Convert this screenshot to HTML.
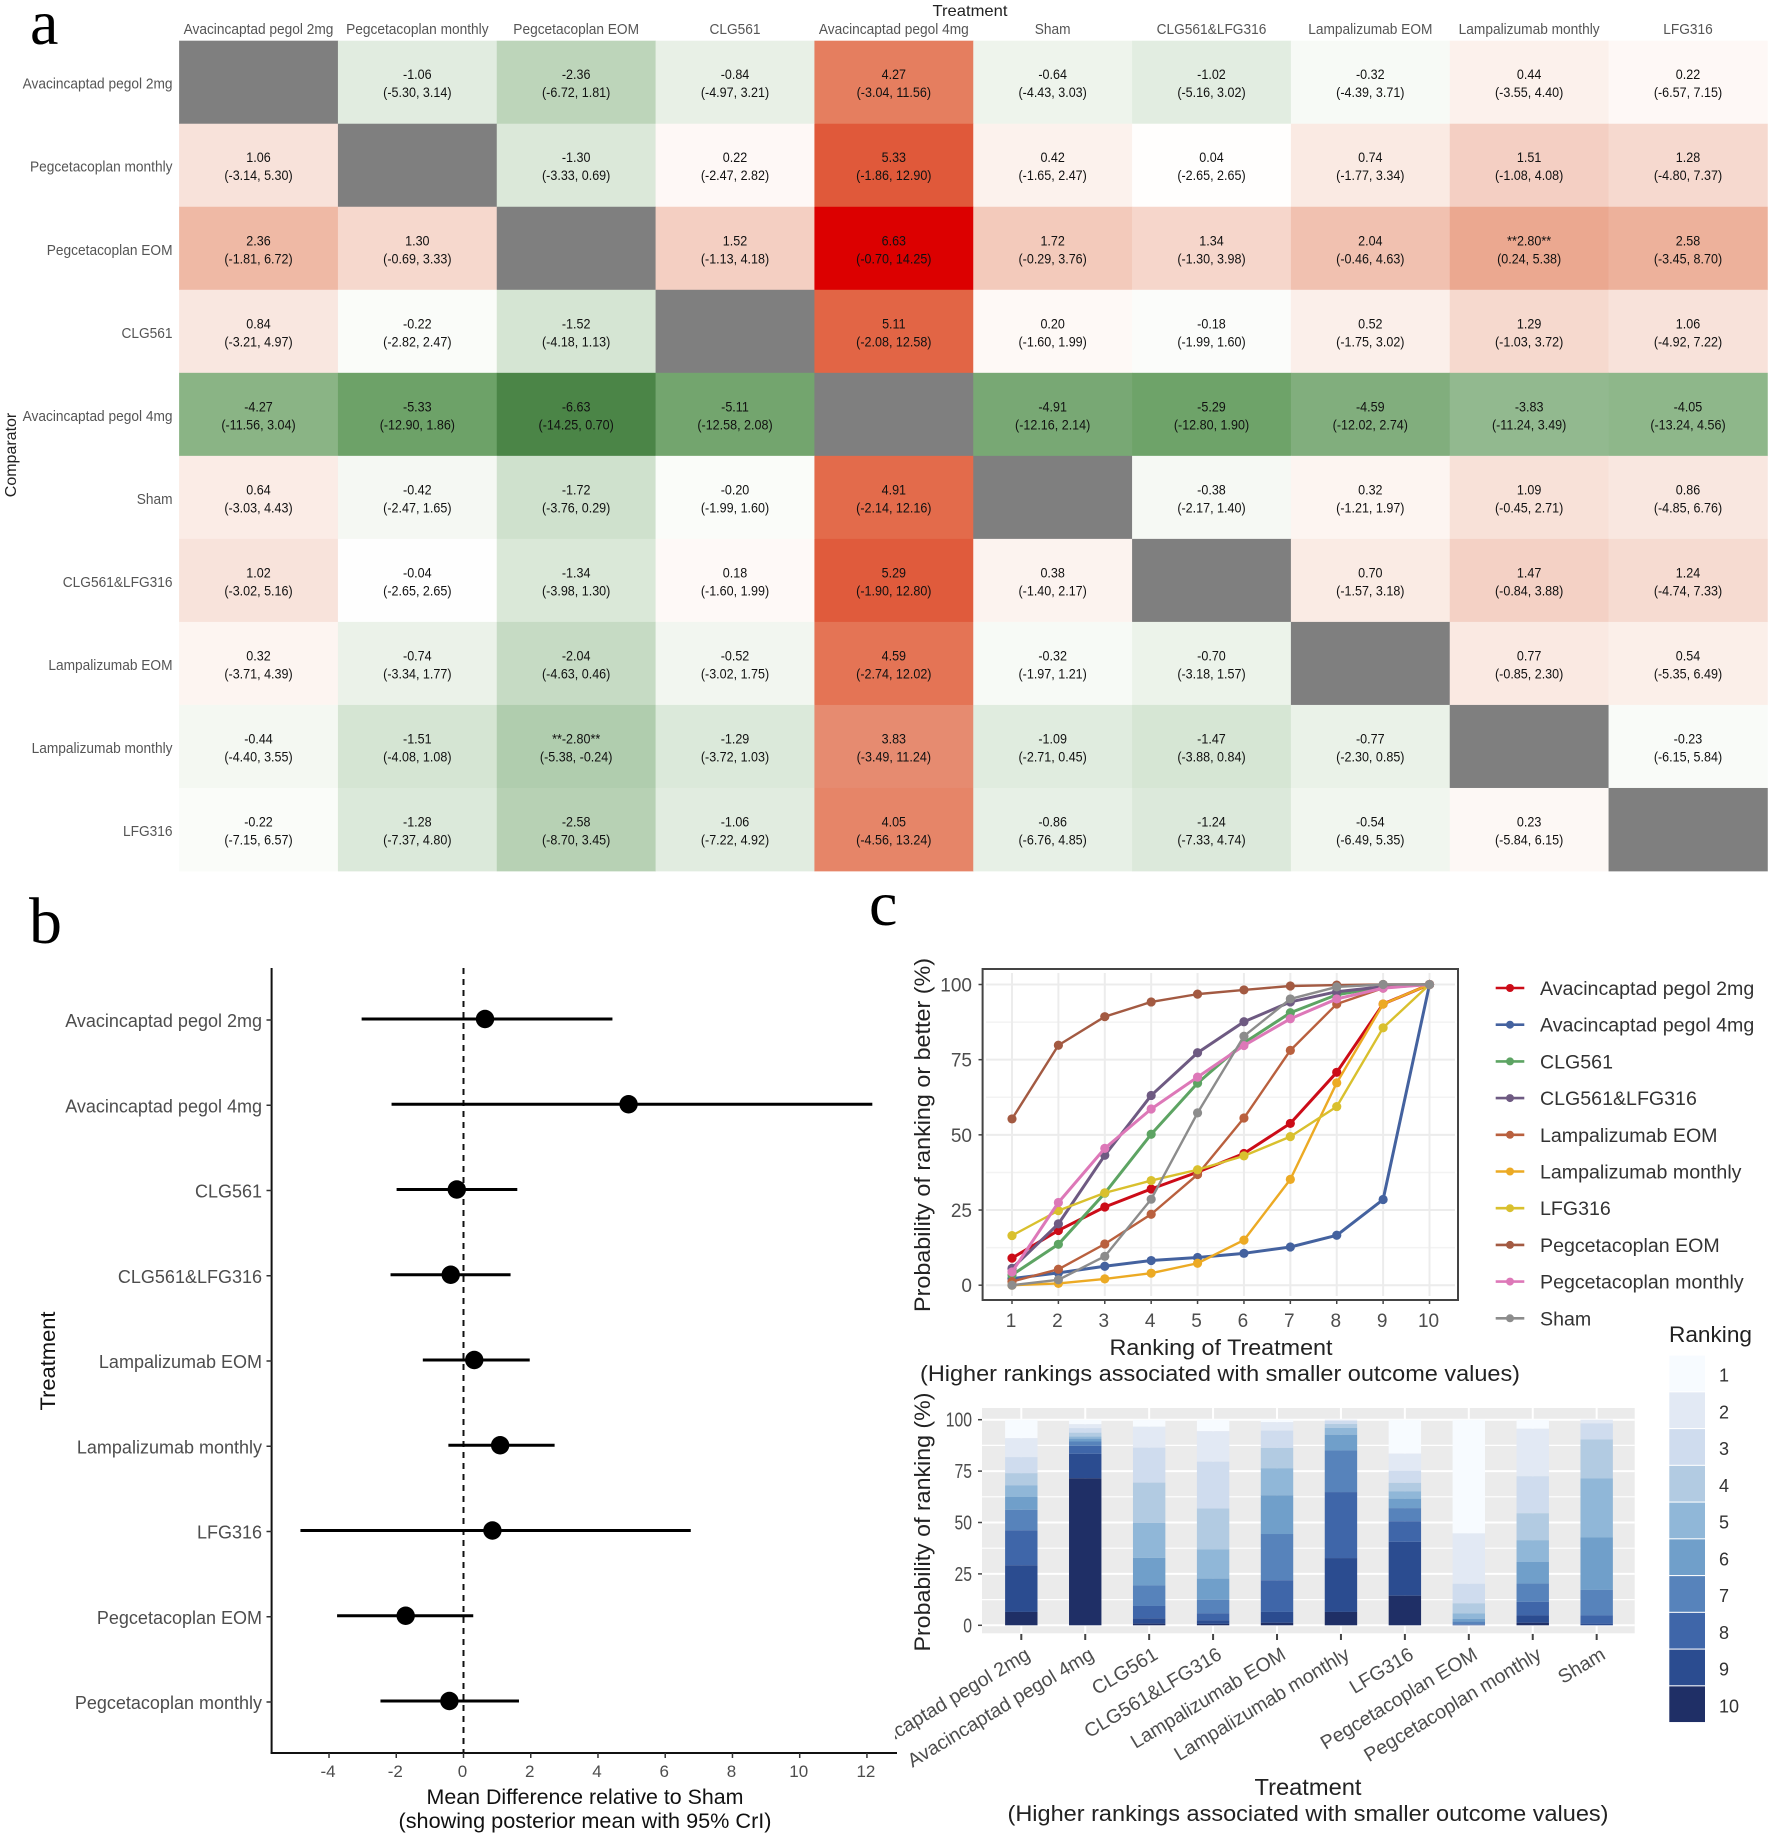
<!DOCTYPE html>
<html lang="en">
<head>
<meta charset="utf-8">
<title>Network meta-analysis figure</title>
<style>
html,body{margin:0;padding:0;background:#fff;}
svg{display:block;}
text{font-family:"Liberation Sans",Arial,sans-serif;}
.serif{font-family:"Liberation Serif","Times New Roman",serif;}
</style>
</head>
<body>
<svg id="fig" xmlns="http://www.w3.org/2000/svg" width="1772" height="1836" viewBox="0 0 1772 1836">
  <defs>
    <clipPath id="barLabelClip"><rect x="895" y="1640" width="800" height="150"/></clipPath>
  </defs>
  <rect x="0" y="0" width="1772" height="1836" fill="#ffffff"/>

  <text class="serif" x="30" y="44" font-size="64" fill="#000">a</text>
  <text class="serif" x="29" y="943" font-size="66" fill="#000">b</text>
  <text class="serif" x="869" y="925" font-size="64" fill="#000">c</text>

  <g id="heatmap">
    <text x="970" y="16" font-size="16" text-anchor="middle" fill="#222" textLength="75" lengthAdjust="spacingAndGlyphs">Treatment</text>
    <text transform="translate(16,455) rotate(-90)" font-size="16" text-anchor="middle" fill="#222">Comparator</text>
  </g>

  <g id="forest">
    <text transform="translate(55,1361) rotate(-90)" font-size="21" text-anchor="middle" fill="#111" textLength="99" lengthAdjust="spacingAndGlyphs">Treatment</text>
    <text x="585" y="1804" font-size="21" text-anchor="middle" fill="#111" textLength="317" lengthAdjust="spacingAndGlyphs">Mean Difference relative to Sham</text>
    <text x="585" y="1828" font-size="21" text-anchor="middle" fill="#111" textLength="373" lengthAdjust="spacingAndGlyphs">(showing posterior mean with 95% CrI)</text>
  </g>

  <g id="lines">
    <text transform="translate(930,1135) rotate(-90)" font-size="22" text-anchor="middle" fill="#222" textLength="354" lengthAdjust="spacingAndGlyphs">Probability of ranking or better (%)</text>
    <text x="1221" y="1355" font-size="22" text-anchor="middle" fill="#222" textLength="223" lengthAdjust="spacingAndGlyphs">Ranking of Treatment</text>
    <text x="1220" y="1381" font-size="22" text-anchor="middle" fill="#222" textLength="600" lengthAdjust="spacingAndGlyphs">(Higher rankings associated with smaller outcome values)</text>
  </g>

  <g id="bars">
    <text transform="translate(930,1522) rotate(-90)" font-size="22" text-anchor="middle" fill="#222" textLength="259" lengthAdjust="spacingAndGlyphs">Probability of ranking (%)</text>
    <text x="1308" y="1795" font-size="23" text-anchor="middle" fill="#222" textLength="107" lengthAdjust="spacingAndGlyphs">Treatment</text>
    <text x="1308" y="1821" font-size="22" text-anchor="middle" fill="#222" textLength="601" lengthAdjust="spacingAndGlyphs">(Higher rankings associated with smaller outcome values)</text>
  </g>

  <g id="legendLines"></g>
  <g id="legendRanks">
    <text x="1669" y="1342" font-size="22" fill="#222" textLength="83" lengthAdjust="spacingAndGlyphs">Ranking</text>
  </g>
</svg>

<script>
// ---------- Panel a data ----------
var heatLabels = ["Avacincaptad pegol 2mg","Pegcetacoplan monthly","Pegcetacoplan EOM","CLG561","Avacincaptad pegol 4mg","Sham","CLG561&LFG316","Lampalizumab EOM","Lampalizumab monthly","LFG316"];
var heatValues = [
 [null,-1.06,-2.36,-0.84,4.27,-0.64,-1.02,-0.32,0.44,0.22],
 [1.06,null,-1.30,0.22,5.33,0.42,0.04,0.74,1.51,1.28],
 [2.36,1.30,null,1.52,6.63,1.72,1.34,2.04,2.80,2.58],
 [0.84,-0.22,-1.52,null,5.11,0.20,-0.18,0.52,1.29,1.06],
 [-4.27,-5.33,-6.63,-5.11,null,-4.91,-5.29,-4.59,-3.83,-4.05],
 [0.64,-0.42,-1.72,-0.20,4.91,null,-0.38,0.32,1.09,0.86],
 [1.02,-0.04,-1.34,0.18,5.29,0.38,null,0.70,1.47,1.24],
 [0.32,-0.74,-2.04,-0.52,4.59,-0.32,-0.70,null,0.77,0.54],
 [-0.44,-1.51,-2.80,-1.29,3.83,-1.09,-1.47,-0.77,null,-0.23],
 [-0.22,-1.28,-2.58,-1.06,4.05,-0.86,-1.24,-0.54,0.23,null]
];
var heatLower = [
 [null,-5.30,-6.72,-4.97,-3.04,-4.43,-5.16,-4.39,-3.55,-6.57],
 [-3.14,null,-3.33,-2.47,-1.86,-1.65,-2.65,-1.77,-1.08,-4.80],
 [-1.81,-0.69,null,-1.13,-0.70,-0.29,-1.30,-0.46,0.24,-3.45],
 [-3.21,-2.82,-4.18,null,-2.08,-1.60,-1.99,-1.75,-1.03,-4.92],
 [-11.56,-12.90,-14.25,-12.58,null,-12.16,-12.80,-12.02,-11.24,-13.24],
 [-3.03,-2.47,-3.76,-1.99,-2.14,null,-2.17,-1.21,-0.45,-4.85],
 [-3.02,-2.65,-3.98,-1.60,-1.90,-1.40,null,-1.57,-0.84,-4.74],
 [-3.71,-3.34,-4.63,-3.02,-2.74,-1.97,-3.18,null,-0.85,-5.35],
 [-4.40,-4.08,-5.38,-3.72,-3.49,-2.71,-3.88,-2.30,null,-6.15],
 [-7.15,-7.37,-8.70,-7.22,-4.56,-6.76,-7.33,-6.49,-5.84,null]
];
var heatUpper = [
 [null,3.14,1.81,3.21,11.56,3.03,3.02,3.71,4.40,7.15],
 [5.30,null,0.69,2.82,12.90,2.47,2.65,3.34,4.08,7.37],
 [6.72,3.33,null,4.18,14.25,3.76,3.98,4.63,5.38,8.70],
 [4.97,2.47,1.13,null,12.58,1.99,1.60,3.02,3.72,7.22],
 [3.04,1.86,0.70,2.08,null,2.14,1.90,2.74,3.49,4.56],
 [4.43,1.65,0.29,1.60,12.16,null,1.40,1.97,2.71,6.76],
 [5.16,2.65,1.30,1.99,12.80,2.17,null,3.18,3.88,7.33],
 [4.39,1.77,0.46,1.75,12.02,1.21,1.57,null,2.30,6.49],
 [3.55,1.08,-0.24,1.03,11.24,0.45,0.84,0.85,null,5.84],
 [6.57,4.80,3.45,4.92,13.24,4.85,4.74,5.35,6.15,null]
];

// ---------- Panel b data ----------
var forestTreatments = ["Avacincaptad pegol 2mg","Avacincaptad pegol 4mg","CLG561","CLG561&LFG316","Lampalizumab EOM","Lampalizumab monthly","LFG316","Pegcetacoplan EOM","Pegcetacoplan monthly"];
var forestMean = [0.64,4.91,-0.20,-0.38,0.32,1.09,0.86,-1.72,-0.42];
var forestLow = [-3.03,-2.14,-1.99,-2.17,-1.21,-0.45,-4.85,-3.76,-2.47];
var forestHigh = [4.43,12.16,1.60,1.40,1.97,2.71,6.76,0.29,1.65];
var forestTicks = [-4,-2,0,2,4,6,8,10,12];

// ---------- Panel c data ----------
var rankCategories = [1,2,3,4,5,6,7,8,9,10];
var rankTreatments = ["Avacincaptad pegol 2mg","Avacincaptad pegol 4mg","CLG561","CLG561&LFG316","Lampalizumab EOM","Lampalizumab monthly","LFG316","Pegcetacoplan EOM","Pegcetacoplan monthly","Sham"];
var cumAva2 = [9,18.2,26,32,37.6,43.8,53.8,70.8,93.5,100];
var cumAva4 = [2.2,4.1,6.3,8.2,9.2,10.6,12.7,16.6,28.5,100];
var cumClg = [3.4,13.6,30.6,50.2,67.2,80.6,90.6,96.6,99.2,100];
var cumClgLfg = [5.6,20.4,43.2,63.1,77.3,87.6,94.2,97.6,99.3,100];
var cumLampEom = [1.2,5.3,13.7,23.6,36.8,55.6,78.1,93.5,98.8,100];
var cumLampMon = [0,0.6,2.1,4,7.3,15,35.2,67.3,93.5,100];
var cumLfg = [16.5,24.8,30.7,34.8,38.4,43,49.4,59.4,85.6,100];
var cumPegEom = [55.3,79.8,89.3,94.2,96.8,98.2,99.5,99.8,100,100];
var cumPegMon = [4.4,27.5,45.5,58.6,69.2,79.7,88.6,95.2,98.8,100];
var cumSham = [0,1.8,9.6,28.6,57.3,82.8,95.2,99.2,100,100];
var rankSeries = [cumAva2,cumAva4,cumClg,cumClgLfg,cumLampEom,cumLampMon,cumLfg,cumPegEom,cumPegMon,cumSham];
var percentTicks = [0,25,50,75,100];
var percentMinorTicks = [12.5,37.5,62.5,87.5];
var seriesColors = ["#cc0c18","#44629f","#5da463","#6e5a82","#b9603e","#ecaa24","#d9c02e","#a35a42","#dd78b8","#8c8c8c"];
var rankColors = ["#f7fbff","#e2e9f4","#cfdcee","#b2cbe2","#90b7d8","#709fca","#5783bb","#3f66a9","#2b4c90","#1f2f66"];

// ---------- Axis functions ----------
function heatX(c){ return 179.1 + 158.83*c; }
function heatY(r){ return 40.7 + 83.03*r; }
function forestX(v){ return 463.5 + 33.62*v; }
function forestY(i){ return 1020 + 85.25*i; }
function lineX(rank){ return 1012 + 46.39*(rank-1); }
function lineY(p){ return 1285.2 - 3.007*p; }
function barX(i){ return 1021.3 + 63.93*i; }
function barY(p){ return 1625.3 - 2.056*p; }

// ---------- Helpers ----------
var NS = "http://www.w3.org/2000/svg";
function mk(parent, tag, attrs, txt){
  var el = document.createElementNS(NS, tag);
  for (var k in attrs) el.setAttribute(k, attrs[k]);
  if (txt !== undefined) el.textContent = txt;
  parent.appendChild(el);
  return el;
}
function lerp(a,b,t){ return a+(b-a)*t; }
function hexRgb(h){ return [parseInt(h.substr(1,2),16),parseInt(h.substr(3,2),16),parseInt(h.substr(5,2),16)]; }
var redRamp = [[0,"#ffffff"],[0.44,"#fcf1ec"],[1.06,"#f8e2da"],[1.52,"#f4cfc2"],[2.36,"#efb9a5"],[2.8,"#eba890"],[3.83,"#e68b70"],[4.27,"#e57e5f"],[5.11,"#e26545"],[5.33,"#e0593a"],[6.63,"#dc0000"]];
var greenRamp = [[0,"#ffffff"],[0.44,"#f4f8f2"],[1.06,"#e1ece0"],[1.52,"#d5e5d3"],[2.36,"#bdd5ba"],[2.8,"#b0cdae"],[3.83,"#92b98f"],[4.27,"#8ab485"],[4.91,"#78a874"],[5.33,"#6da268"],[6.63,"#4b8547"]];
function heatColor(v){
  var ramp = v >= 0 ? redRamp : greenRamp, a = Math.min(Math.abs(v), 6.63);
  for (var i=1;i<ramp.length;i++){
    if (a <= ramp[i][0]){
      var t = (a-ramp[i-1][0])/(ramp[i][0]-ramp[i-1][0]);
      var x = hexRgb(ramp[i-1][1]), y = hexRgb(ramp[i][1]);
      return "rgb("+Math.round(lerp(x[0],y[0],t))+","+Math.round(lerp(x[1],y[1],t))+","+Math.round(lerp(x[2],y[2],t))+")";
    }
  }
  return ramp[ramp.length-1][1];
}

// ---------- Panel a ----------
var gHeat = document.getElementById("heatmap");
var col, row, el;
for (col=0; col<10; col++){
  el = mk(gHeat,"text",{transform:"translate("+(heatX(col)+79.4)+",34) scale(0.98,1.05)","font-size":14,"text-anchor":"middle",fill:"#555"},heatLabels[col]);
  
  
}
for (row=0; row<10; row++){
  el = mk(gHeat,"text",{transform:"translate(172.5,"+(heatY(row)+48)+") scale(0.98,1.05)","font-size":14,"text-anchor":"end",fill:"#555"},heatLabels[row]);
  
  
}
for (row=0; row<10; row++){
  for (col=0; col<10; col++){
    var val = heatValues[row][col];
    var fill = val === null ? "#7f7f7f" : heatColor(val);
    el = mk(gHeat,"rect",{x:heatX(col),y:heatY(row),width:159.2,height:83.4,fill:fill});
    
    
  }
}
for (row=0; row<10; row++){
  for (col=0; col<10; col++){
    var v2 = heatValues[row][col];
    if (v2 === null) continue;
    var lo = heatLower[row][col], hi = heatUpper[row][col];
    var sig = lo > 0 || hi < 0;
    var cx = heatX(col)+79.4, cy = heatY(row)+41.5;
    var main = (sig ? "**" : "") + v2.toFixed(2) + (sig ? "**" : "");
    el = mk(gHeat,"text",{transform:"translate("+cx+","+(cy-3)+") scale(0.93,1.05)","font-size":13.5,"text-anchor":"middle",fill:"#111"},main);
    
    
    el = mk(gHeat,"text",{transform:"translate("+cx+","+(cy+15)+") scale(0.93,1.05)","font-size":13.5,"text-anchor":"middle",fill:"#111"},"("+lo.toFixed(2)+", "+hi.toFixed(2)+")");
    
    
  }
}

// ---------- Panel b ----------
var gForest = document.getElementById("forest");
el = mk(gForest,"line",{x1:271.6,y1:968,x2:271.6,y2:1753.5,stroke:"#111","stroke-width":2});


el = mk(gForest,"line",{x1:270.6,y1:1753,x2:897,y2:1753,stroke:"#111","stroke-width":2});


el = mk(gForest,"line",{x1:forestX(0),y1:968,x2:forestX(0),y2:1753,stroke:"#111","stroke-width":2,"stroke-dasharray":"6 5"});


forestTicks.forEach(function(t){
  var tk = mk(gForest,"line",{x1:forestX(t),y1:1753,x2:forestX(t),y2:1758,stroke:"#333","stroke-width":1.5});
  
  
  var tl = mk(gForest,"text",{x:forestX(t)-1,y:1777,"font-size":17,"text-anchor":"middle",fill:"#4d4d4d"},String(t));
  
  
});
forestTreatments.forEach(function(name,i){
  var y = forestY(i);
  var tk = mk(gForest,"line",{x1:266.5,y1:y,x2:271.6,y2:y,stroke:"#333","stroke-width":1.5});
  
  
  var tl = mk(gForest,"text",{x:262,y:y+7,"font-size":18,"text-anchor":"end",fill:"#4d4d4d"},name);
  
  
  var ci = mk(gForest,"line",{x1:forestX(forestLow[i]),y1:y-1,x2:forestX(forestHigh[i]),y2:y-1,stroke:"#000","stroke-width":3});
  
  
  var pt = mk(gForest,"circle",{cx:forestX(forestMean[i]),cy:y-1,r:9.2,fill:"#000"});
  
  
});

// ---------- Panel c: cumulative lines ----------
var gLines = document.getElementById("lines");
el = mk(gLines,"rect",{x:982.6,y:969,width:475.4,height:331,fill:"#fff"});


percentMinorTicks.forEach(function(p){
  var g = mk(gLines,"line",{x1:986,y1:lineY(p),x2:1455,y2:lineY(p),stroke:"#f3f3f3","stroke-width":1.5});
  
  
});
percentTicks.forEach(function(p){
  var g = mk(gLines,"line",{x1:986,y1:lineY(p),x2:1455,y2:lineY(p),stroke:"#ececec","stroke-width":2});
  
  
  var tk = mk(gLines,"line",{x1:978.5,y1:lineY(p),x2:982.6,y2:lineY(p),stroke:"#444","stroke-width":1.5});
  
  
  var tl = mk(gLines,"text",{x:972,y:lineY(p)+7,"font-size":19,"text-anchor":"end",fill:"#4d4d4d"},String(p));
  
  
});
rankCategories.forEach(function(r){
  var g = mk(gLines,"line",{x1:lineX(r),y1:973,x2:lineX(r),y2:1296,stroke:"#ececec","stroke-width":2});
  
  
  var tk = mk(gLines,"line",{x1:lineX(r),y1:1300,x2:lineX(r),y2:1304,stroke:"#444","stroke-width":1.5});
  
  
  var tl = mk(gLines,"text",{x:lineX(r)-1,y:1327,"font-size":19,"text-anchor":"middle",fill:"#4d4d4d"},String(r));
  
  
});
rankSeries.forEach(function(series,s){
  var pts = series.map(function(p,i){ return lineX(rankCategories[i])+","+lineY(p); }).join(" ");
  var thin = (s===5||s===6||s===9||s===4||s===7);
  var pl = mk(gLines,"polyline",{points:pts,fill:"none",stroke:seriesColors[s],"stroke-width":thin?2.4:3,"stroke-linejoin":"round"});
  
  
  series.forEach(function(p,i){
    var d = mk(gLines,"circle",{cx:lineX(rankCategories[i]),cy:lineY(p),r:4.6,fill:seriesColors[s]});
    
    
  });
});
el = mk(gLines,"rect",{x:982.6,y:969,width:475.4,height:331,fill:"none",stroke:"#444","stroke-width":2});



// ---------- Panel c: stacked bars ----------
var gBars = document.getElementById("bars");
el = mk(gBars,"rect",{x:982,y:1408,width:652.7,height:225.3,fill:"#ebebeb"});


percentMinorTicks.forEach(function(p){
  var g = mk(gBars,"line",{x1:982,y1:barY(p),x2:1634.7,y2:barY(p),stroke:"#fff","stroke-width":1.2});
  
  
});
percentTicks.forEach(function(p){
  var g = mk(gBars,"line",{x1:982,y1:barY(p),x2:1634.7,y2:barY(p),stroke:"#fff","stroke-width":2});
  
  
  var tk = mk(gBars,"line",{x1:978,y1:barY(p),x2:982,y2:barY(p),stroke:"#444","stroke-width":1.5});
  
  
  var tl = mk(gBars,"text",{transform:"translate(972,"+(barY(p)+7)+") scale(0.85,1.1)","font-size":18.5,"text-anchor":"end",fill:"#4d4d4d"},String(p));
  
  
});
var gLabels = mk(gBars,"g",{"clip-path":"url(#barLabelClip)"});


rankSeries.forEach(function(series,i){
  var cx = barX(i);
  var g = mk(gBars,"line",{x1:cx,y1:1408,x2:cx,y2:1633.3,stroke:"#fff","stroke-width":2});
  
  
  for (var k=0; k<10; k++){
    var topP = 100 - (k===0 ? 0 : series[k-1]);
    var botP = 100 - series[k];
    if (topP - botP <= 0) continue;
    var seg = mk(gBars,"rect",{x:cx-16.2,y:barY(topP),width:32.4,height:barY(botP)-barY(topP),fill:rankColors[k]});
    
    
  }
  var tk = mk(gBars,"line",{x1:cx,y1:1634,x2:cx,y2:1640,stroke:"#444","stroke-width":2});
  
  
  var tl = mk(gLabels,"text",{transform:"translate("+(cx+10)+",1658) rotate(-31)","font-size":19.5,"text-anchor":"end",fill:"#4d4d4d"},rankTreatments[i]);
  
  
});

// ---------- Legends ----------
var gLeg = document.getElementById("legendLines");
rankTreatments.forEach(function(name,i){
  var y = 988 + 36.7*i;
  var ln = mk(gLeg,"line",{x1:1495.7,y1:y,x2:1524.3,y2:y,stroke:seriesColors[i],"stroke-width":2.6});
  
  
  var dt = mk(gLeg,"circle",{cx:1510,cy:y,r:4,fill:seriesColors[i]});
  
  
  var tx = mk(gLeg,"text",{x:1540,y:y+7,"font-size":19.6,fill:"#333"},name);
  
  
});
var gRank = document.getElementById("legendRanks");
rankColors.forEach(function(c,i){
  var y = 1355.6 + 36.75*i;
  var sw = mk(gRank,"rect",{x:1669.3,y:y,width:35.7,height:35.7,fill:c});
  
  
  var tx = mk(gRank,"text",{x:1719,y:y+26,"font-size":18,fill:"#333"},String(rankCategories[i]));
  
  
});
</script>
</body>
</html>
